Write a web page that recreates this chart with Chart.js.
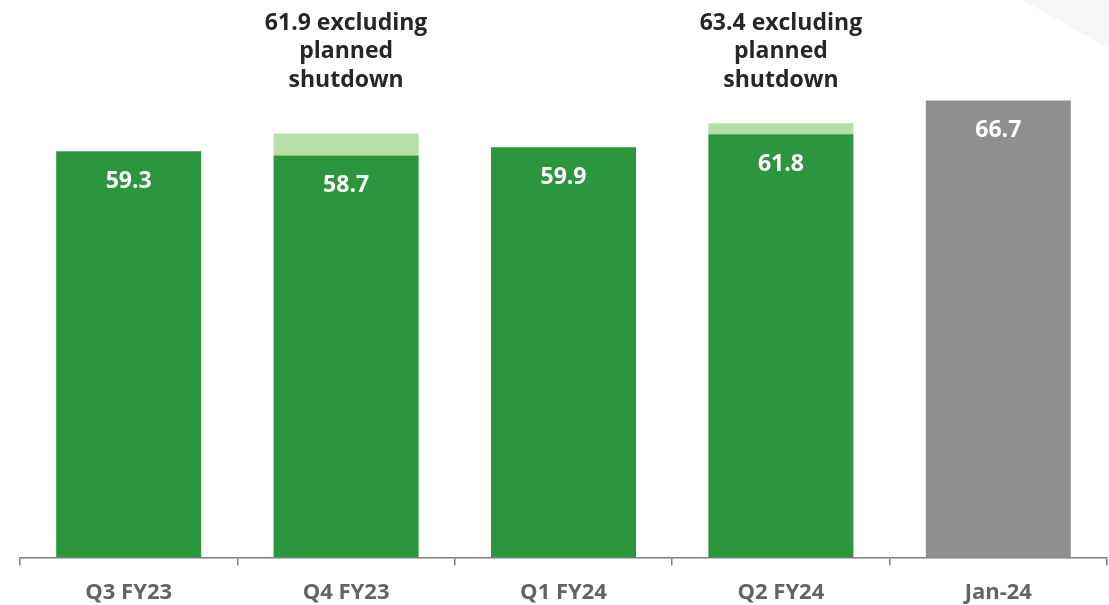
<!DOCTYPE html>
<html>
<head>
<meta charset="utf-8">
<script src="https://cdn.jsdelivr.net/npm/chart.js@4.4.1/dist/chart.umd.min.js"></script>
<style>
  html, body { margin: 0; padding: 0; background: #ffffff; overflow: hidden; }
  #wrap { position: relative; width: 1109px; height: 605px; overflow: hidden; }
  canvas { display: block; }
</style>
</head>
<body>
<div id="wrap"><canvas id="c" width="1109" height="620"></canvas></div>
<script>
const categories = ['Q3 FY23', 'Q4 FY23', 'Q1 FY24', 'Q2 FY24', 'Jan-24'];
const reported = [59.3, 58.7, 59.9, 61.8, 66.7];
const excludingShutdown = [null, 61.9, null, 63.4, null];
const barColors = ['#2c963f', '#2c963f', '#2c963f', '#2c963f', '#8e8f8e'];
const shutdownColor = '#b6dfa7';

const shutdownGap = excludingShutdown.map((v, i) => v === null ? null : +(v - reported[i]).toFixed(1));

const FONT = '"Open Sans", "DejaVu Sans", sans-serif';

const decorPlugin = {
  id: 'decor',
  beforeDraw(chart) {
    const ctx = chart.ctx;
    ctx.save();
    ctx.fillStyle = '#f6f6f6';
    ctx.beginPath();
    ctx.moveTo(1022, 0);
    ctx.lineTo(1109, 0);
    ctx.lineTo(1109, 48);
    ctx.closePath();
    ctx.fill();
    ctx.restore();
  }
};

const labelPlugin = {
  id: 'labels',
  afterDatasetsDraw(chart) {
    const ctx = chart.ctx;
    const meta = chart.getDatasetMeta(0);
    const x = chart.scales.x;
    ctx.save();
    ctx.textAlign = 'center';
    ctx.textBaseline = 'middle';
    ctx.font = 'bold 23px ' + FONT;
    ctx.fillStyle = '#ffffff';
    meta.data.forEach((bar, i) => {
      ctx.fillText(reported[i].toFixed(1), bar.x, bar.y + 30);
    });
    ctx.fillStyle = '#262626';
    const lineYs = [23, 51, 80];
    excludingShutdown.forEach((v, i) => {
      if (v === null) return;
      const cx = x.getPixelForValue(i);
      const lines = [v.toFixed(1) + ' excluding', 'planned', 'shutdown'];
      lines.forEach((t, k) => ctx.fillText(t, cx, lineYs[k]));
    });
    ctx.restore();
  }
};

new Chart(document.getElementById('c'), {
  type: 'bar',
  data: {
    labels: categories,
    datasets: [
      {
        label: 'Reported',
        data: reported,
        backgroundColor: barColors,
        borderWidth: 0,
        categoryPercentage: 0.667,
        barPercentage: 1.0,
        stack: 's'
      },
      {
        label: 'Planned shutdown',
        data: shutdownGap,
        backgroundColor: shutdownColor,
        borderWidth: 0,
        categoryPercentage: 0.667,
        barPercentage: 1.0,
        stack: 's'
      }
    ]
  },
  options: {
    responsive: false,
    animation: false,
    devicePixelRatio: 1,
    layout: { padding: { left: 20, right: 2, top: 78, bottom: 0 } },
    plugins: {
      legend: { display: false },
      tooltip: { enabled: false }
    },
    scales: {
      x: {
        stacked: true,
        grid: {
          display: true,
          drawOnChartArea: false,
          drawTicks: true,
          tickLength: 8,
          color: '#7f7f7f',
          lineWidth: 1.5
        },
        border: { display: true, color: '#7f7f7f', width: 1.5 },
        ticks: {
          color: '#636363',
          font: { family: FONT, size: 22, weight: 'bold' },
          padding: 14
        }
      },
      y: {
        stacked: true,
        display: false,
        min: 0,
        max: 70
      }
    }
  },
  plugins: [decorPlugin, labelPlugin]
});
</script>
</body>
</html>
